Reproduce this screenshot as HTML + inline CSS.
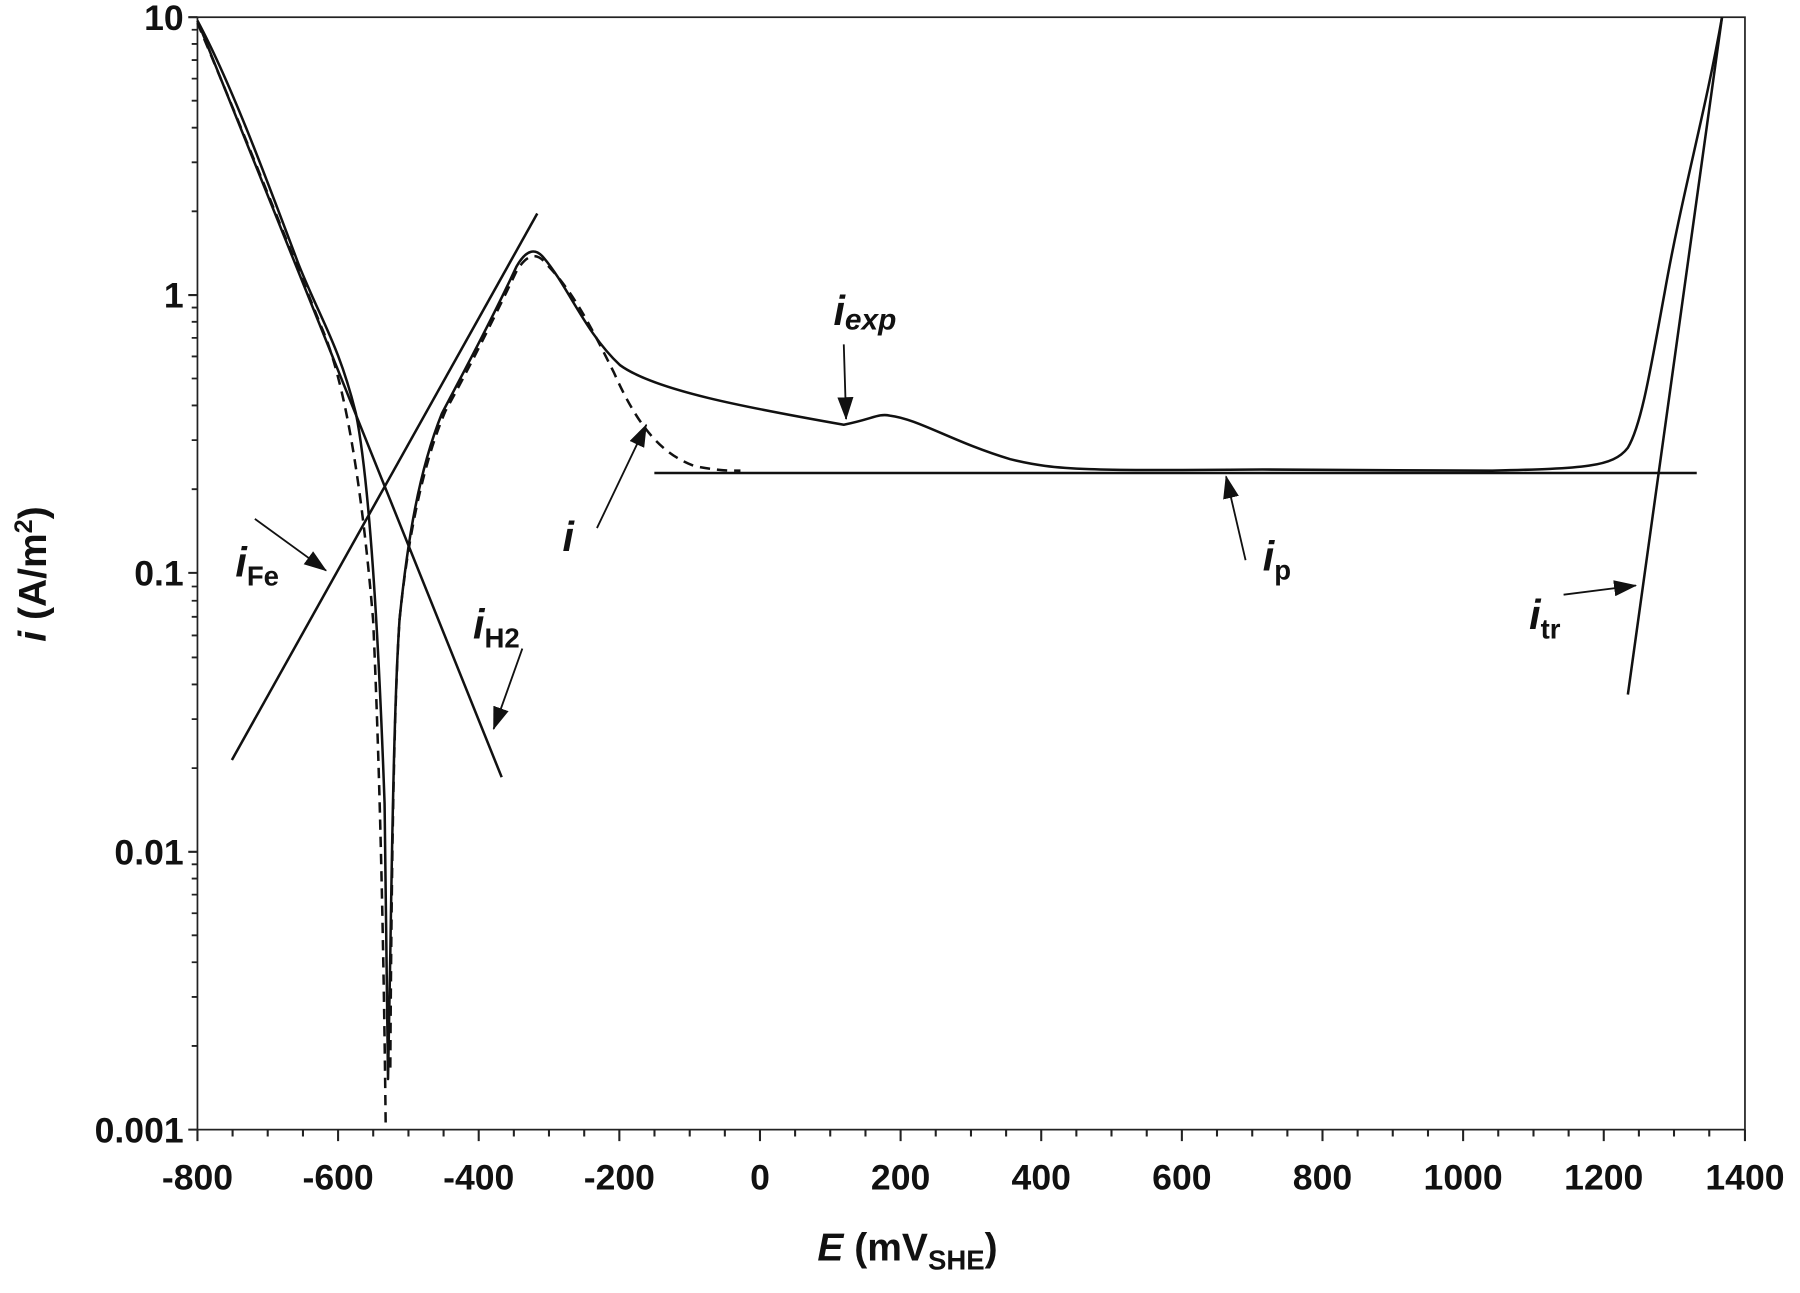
<!DOCTYPE html>
<html><head><meta charset="utf-8"><style>
html,body{margin:0;padding:0;background:#fff;}
svg{display:block;}
text{font-family:"Liberation Sans",Arial,sans-serif;font-weight:bold;fill:#111;}
</style></head><body>
<svg width="1800" height="1293" viewBox="0 0 1800 1293" xmlns="http://www.w3.org/2000/svg">
<defs>
<marker id="ah2" viewBox="0 0 20 14" markerWidth="20" markerHeight="14" refX="19" refY="7" orient="auto" markerUnits="userSpaceOnUse"><path d="M0,0 L20,7 L0,14 Z" fill="#111"/></marker></defs>
<g transform="scale(1.148)">
<rect x="172" y="15" width="1348" height="969" fill="none" stroke="#222" stroke-width="1.5"/>
<g stroke="#222" stroke-width="1.8" fill="none">
<path d="M172,15h-8M172,257h-8M172,499h-8M172,742h-8M172,984h-8"/>
<path d="M172,984v10M202.6,984v6M233.2,984v6M263.9,984v6M294.5,984v10M325.1,984v6M355.8,984v6M386.4,984v6M417,984v10M447.6,984v6M478.2,984v6M508.9,984v6M539.5,984v10M570.1,984v6M600.8,984v6M631.4,984v6M662,984v10M692.6,984v6M723.2,984v6M753.9,984v6M784.5,984v10M815.1,984v6M845.8,984v6M876.4,984v6M907,984v10M937.6,984v6M968.2,984v6M998.9,984v6M1029.5,984v10M1060.1,984v6M1090.8,984v6M1121.4,984v6M1152,984v10M1182.6,984v6M1213.2,984v6M1243.9,984v6M1274.5,984v10M1305.1,984v6M1335.8,984v6M1366.4,984v6M1397,984v10M1427.6,984v6M1458.2,984v6M1488.9,984v6M1520,984v10"/>
</g>
<g stroke="#222" stroke-width="1.6">
<path d="M172,911.1h-5M172,868.4h-5M172,838.2h-5M172,814.7h-5M172,795.5h-5M172,779.3h-5M172,765.3h-5M172,752.9h-5
M172,669.1h-5M172,626.4h-5M172,596.2h-5M172,572.7h-5M172,553.5h-5M172,537.3h-5M172,523.3h-5M172,510.9h-5
M172,426.1h-5M172,383.4h-5M172,353.2h-5M172,329.7h-5M172,310.5h-5M172,294.3h-5M172,280.3h-5M172,267.9h-5
M172,184.1h-5M172,141.4h-5M172,111.2h-5M172,87.7h-5M172,68.5h-5M172,52.3h-5M172,38.3h-5M172,25.9h-5"/>
</g>
<g font-size="31" text-anchor="end">
<text x="160" y="26">10</text><text x="160" y="268">1</text><text x="160" y="510">0.1</text><text x="160" y="753">0.01</text><text x="160" y="995">0.001</text>
</g>
<g font-size="31" text-anchor="middle">
<text x="172" y="1036">-800</text><text x="294.5" y="1036">-600</text><text x="417" y="1036">-400</text><text x="539.5" y="1036">-200</text><text x="662" y="1036">0</text><text x="784.5" y="1036">200</text><text x="907" y="1036">400</text><text x="1029.5" y="1036">600</text><text x="1152" y="1036">800</text><text x="1274.5" y="1036">1000</text><text x="1397" y="1036">1200</text><text x="1520" y="1036">1400</text>
</g>
<text x="712" y="1098" font-size="34"><tspan font-style="italic">E</tspan>  (mV<tspan font-size="24" dy="8">SHE</tspan><tspan dy="-8">)</tspan></text>
<text transform="translate(40,500) rotate(-90)" text-anchor="middle" font-size="34"><tspan font-style="italic">i</tspan>  (A/m<tspan font-size="22" dy="-12">2</tspan><tspan dy="12">)</tspan></text>
<g fill="none" stroke="#111" stroke-width="2.2" stroke-linejoin="round">
<path d="M172,18 C200,70 230,150 260,230 C280,280 295,300 310,360 C322,420 330,560 335,700 L338,940 L340,830 C342,700 344,600 348,540 C355,470 365,410 385,360 C405,322 430,275 450,232 C458,218 466,215 474,225 C495,250 510,290 540,318 C570,340 650,355 735,370 C760,365 765,360 775,362 C800,365 830,385 880,400 C920,410 950,410 1100,409 L1300,410 C1380,408 1405,407 1418,390 C1430,370 1438,320 1450,255 C1465,170 1485,100 1500,15"/>
<path stroke-dasharray="9,6" d="M172,20 C210,110 250,210 280,285 C300,330 315,420 325,540 C330,650 334,800 336,984 M340,930 C341,760 343,620 348,540 C355,470 368,405 388,358 C408,322 430,278 450,236 C460,220 468,220 476,230 C500,255 515,285 535,325 C555,370 575,395 605,406 C625,410 635,410 645,410"/>
<path d="M172,18 L437,677"/>
<path d="M202,662 L468,186"/>
<path d="M570,412 L1478,412"/>
<path d="M1418,605 L1500,15"/>
</g>
<g stroke="#111" stroke-width="1.6" fill="none" marker-end="url(#ah2)">
<path d="M735,300 L737,365"/>
<path d="M520,460 L563,370"/>
<path d="M222,452 L284,497"/>
<path d="M455,565 L430,635"/>
<path d="M1085,488 L1068,415"/>
<path d="M1362,518 L1425,510"/>
</g>
<g font-size="36" font-style="italic">
<text x="726" y="283">i<tspan font-size="26" dy="4">exp</tspan></text>
<text x="490" y="480">i</text>
<text x="1100" y="497">i<tspan font-size="24" font-style="normal" dy="8">p</tspan></text>
<text x="1332" y="548">i<tspan font-size="24" font-style="normal" dy="8">tr</tspan></text>
<text x="205" y="502">i<tspan font-size="24" font-style="normal" dy="8">Fe</tspan></text>
<text x="412" y="556">i<tspan font-size="24" font-style="normal" dy="8">H2</tspan></text>
</g>
</g>
</svg>
</body></html>
